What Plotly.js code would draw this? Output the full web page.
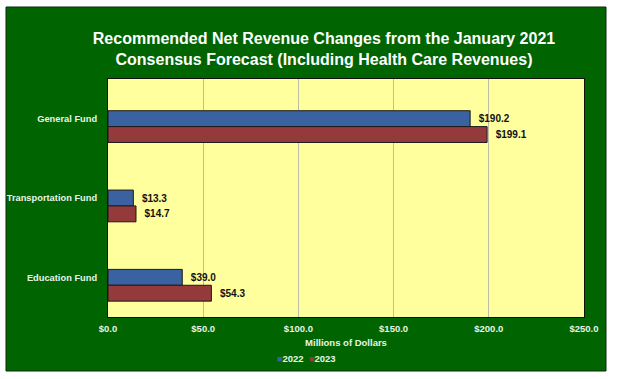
<!DOCTYPE html>
<html>
<head>
<meta charset="utf-8">
<script src="https://cdn.plot.ly/plotly-3.0.1.min.js"></script>
<style>html,body{margin:0;padding:0;background:#fff;}#chart{width:617px;height:379px;}</style>
</head>
<body>
<div id="chart"></div>
<script>
const categories = ["General Fund", "Transportation Fund", "Education Fund"];
const values2022 = [190.2, 13.3, 39.0];
const values2023 = [199.1, 14.7, 54.3];
const seriesNames = ["2022", "2023"];
const seriesColors = ["#3B62A0", "#953A3A"];
const tickValues = [0, 50, 100, 150, 200, 250];
const tickLabels = ["$0.0", "$50.0", "$100.0", "$150.0", "$200.0", "$250.0"];

const fmt = v => "\u00a0\u00a0$" + v.toFixed(1);
const FAM = "Liberation Sans, Arial, sans-serif";
const labelFont = {family: FAM, size: 10, color: "#111", weight: "bold"};
const light = "#E8F4E8";

const traces = [
  {type: "bar", orientation: "h", name: seriesNames[0], y: categories, x: values2022,
   marker: {color: seriesColors[0], line: {color: "#1a1a1a", width: 1}},
   width: 0.2, offset: -0.1, showlegend: false,
   text: values2022.map(fmt), textposition: "outside",
   textfont: labelFont, cliponaxis: false},
  {type: "bar", orientation: "h", name: seriesNames[1], y: categories, x: values2023,
   marker: {color: seriesColors[1], line: {color: "#1a1a1a", width: 1}},
   width: 0.2, offset: 0.1, showlegend: false,
   text: values2023.map(fmt), textposition: "outside",
   textfont: labelFont, cliponaxis: false}
];

const legendX = [275, 307];
const legendAnn = seriesNames.map((n, i) => ({
  xref: "paper", yref: "paper",
  x: (legendX[i] - 108) / 476, y: (317 - 358) / 238,
  xanchor: "left", yanchor: "middle", showarrow: false,
  text: '<span style="color:' + seriesColors[i] + ';font-size:9px">■</span>' + n,
  font: {family: FAM, size: 9.5, color: light, weight: "bold"}
}));

const layout = {
  width: 617, height: 379,
  paper_bgcolor: "#ffffff",
  plot_bgcolor: "#FFFF9E",
  margin: {l: 108, r: 33, t: 79, b: 62},
  barmode: "group",
  showlegend: false,
  title: {
    text: "Recommended Net Revenue Changes from the January 2021<br>Consensus Forecast (Including Health Care Revenues)",
    font: {family: FAM, size: 16, color: "#ffffff", weight: "bold"},
    x: 324/617, xanchor: "center", xref: "container",
    y: 1 - 44/379, yanchor: "middle"
  },
  xaxis: {
    range: [0, 250], tickvals: tickValues, ticktext: tickLabels,
    showgrid: true, gridcolor: "#BDBDA8", gridwidth: 1,
    zeroline: false, showline: true, mirror: true, linecolor: "#111", linewidth: 1,
    ticks: "", ticklabelstandoff: 3,
    tickfont: {family: FAM, size: 9.5, color: light, weight: "bold"},
    title: {text: "Millions of Dollars", standoff: 5,
            font: {family: FAM, size: 9.5, color: light, weight: "bold"}},
    fixedrange: true
  },
  yaxis: {
    type: "category", range: [2.5, -0.5], autorange: false,
    showgrid: false, zeroline: false, showline: true, mirror: true, linecolor: "#111", linewidth: 1,
    ticks: "", ticklabelstandoff: 8,
    tickfont: {family: FAM, size: 9.3, color: light, weight: "bold"},
    fixedrange: true
  },
  annotations: legendAnn,
  shapes: [
    {type: "rect", xref: "paper", yref: "paper", layer: "below",
     x0: -102/476, x1: 498/476, y0: (317-371)/238, y1: (317-7)/238,
     fillcolor: "#006400", line: {color: "#0a2a0a", width: 1}},
    {type: "rect", xref: "paper", yref: "paper", layer: "below",
     x0: 0, x1: 1, y0: 0, y1: 1,
     fillcolor: "#FFFF9E", line: {width: 0}}
  ]
};

Plotly.newPlot("chart", traces, layout, {displayModeBar: false, staticPlot: true});
</script>
</body>
</html>
